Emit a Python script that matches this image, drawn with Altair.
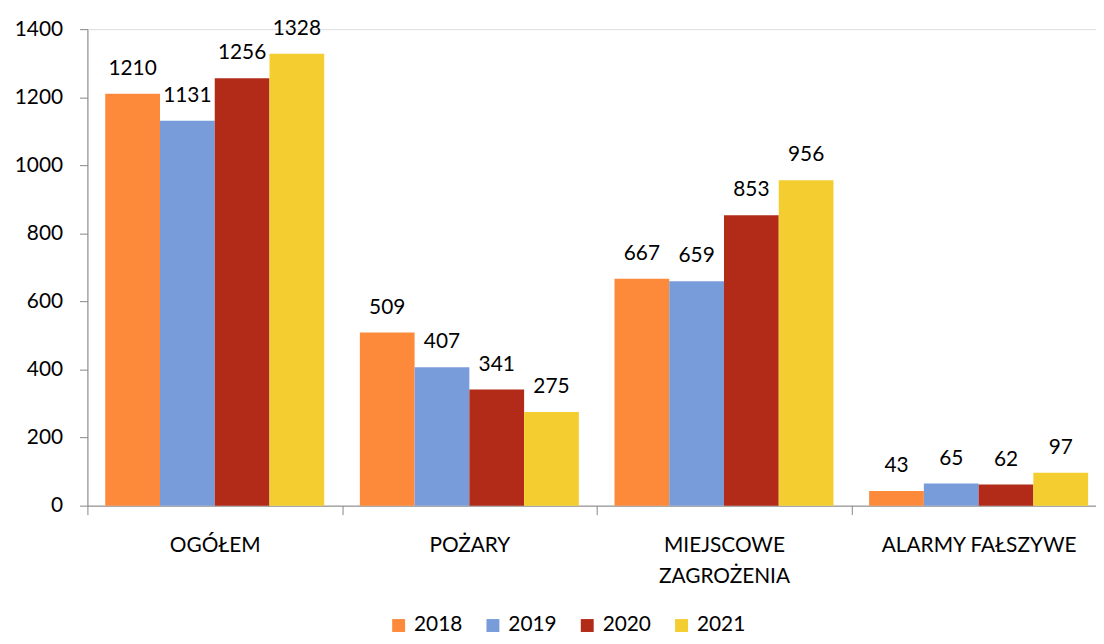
import altair as alt
import pandas as pd

categories = ["OGÓŁEM", "POŻARY", "MIEJSCOWE ZAGROŻENIA", "ALARMY FAŁSZYWE"]
years = ["2018", "2019", "2020", "2021"]
v2018 = [1210, 509, 667, 43]
v2019 = [1131, 407, 659, 65]
v2020 = [1256, 341, 853, 62]
v2021 = [1328, 275, 956, 97]
colors = ["#FD8A3B", "#789CD9", "#B12B18", "#F4CE30"]

rows = []
for yr, vals in zip(years, [v2018, v2019, v2020, v2021]):
    for c, v in zip(categories, vals):
        rows.append({"kategoria": c, "rok": yr, "wartosc": v})
df = pd.DataFrame(rows)

FONT = "Lato"
FS = 21

x = alt.X(
    "kategoria:N",
    sort=categories,
    scale=alt.Scale(paddingInner=0, paddingOuter=0, rangeMin=0, rangeMax=1026),
    axis=alt.Axis(
        title=None,
        labelAngle=0,
        tickBand="extent",
        domainColor="#868686",
        tickColor="#868686",
        tickSize=9,
        labelPadding=20,
        labelLimit=0,
        labelFont=FONT,
        labelFontSize=FS,
        labelColor="#000000",
        labelLineHeight=31,
        labelExpr="datum.value == 'MIEJSCOWE ZAGROŻENIA' ? ['MIEJSCOWE', 'ZAGROŻENIA'] : datum.value",
    ),
)
xo = alt.XOffset("rok:N", sort=years, scale=alt.Scale(paddingInner=0, paddingOuter=0.3256))
y = alt.Y(
    "wartosc:Q",
    scale=alt.Scale(domain=[0, 1400], nice=False),
    axis=alt.Axis(
        title=None,
        values=[0, 200, 400, 600, 800, 1000, 1200, 1400],
        format="d",
        grid=False,
        domainColor="#868686",
        tickColor="#868686",
        tickSize=8,
        labelPadding=17,
        labelFont=FONT,
        labelFontSize=FS,
        labelColor="#000000",
    ),
)

bars = alt.Chart(df).mark_bar().encode(
    x=x,
    xOffset=xo,
    y=y,
    color=alt.Color(
        "rok:N",
        sort=years,
        scale=alt.Scale(domain=years, range=colors),
        legend=alt.Legend(
            title=None,
            orient="none",
            legendX=303,
            legendY=590,
            direction="horizontal",
            symbolType="square",
            symbolSize=169,
            symbolStrokeWidth=0,
            labelFont=FONT,
            labelFontSize=FS,
            labelColor="#000000",
            labelOffset=5,
            columnPadding=20,
        ),
    ),
)

labels = alt.Chart(df).mark_text(
    font=FONT, fontSize=FS, color="#000000", baseline="middle", dy=-25
).encode(
    x=alt.X("kategoria:N", sort=categories),
    xOffset=alt.XOffset("rok:N", sort=years),
    y=alt.Y("wartosc:Q"),
    text=alt.Text("wartosc:Q"),
)

chart = (
    alt.layer(bars, labels)
    .properties(
        width=1016,
        height=480,
        autosize=alt.AutoSizeParams(type="none"),
        padding={"left": 80, "top": 19, "right": 0, "bottom": 129},
    )
    .configure_view(stroke=None)
    .configure(background="white")
)

chart.save("out.html", embed_options={"renderer": "svg", "actions": False})
